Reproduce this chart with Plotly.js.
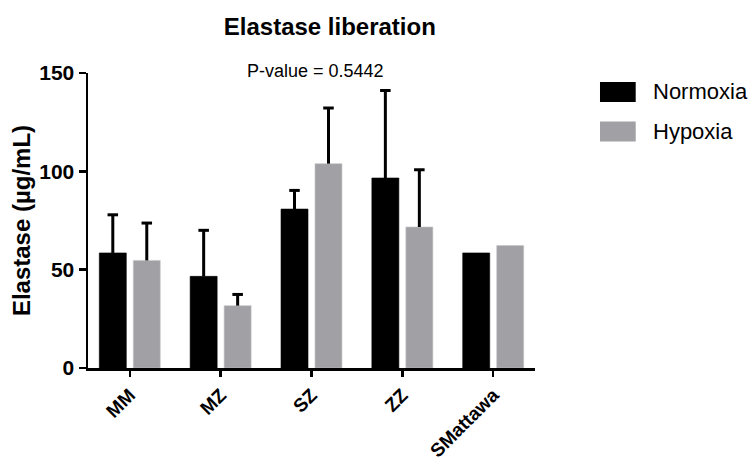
<!DOCTYPE html>
<html>
<head>
<meta charset="utf-8">
<script src="https://cdn.plot.ly/plotly-3.0.1.min.js"></script>
<style>html,body{margin:0;padding:0;background:#fff}#chart{width:754px;height:467px}</style>
</head>
<body>
<div id="chart"></div>
<script>
const categories = ["MM", "MZ", "SZ", "ZZ", "SMattawa"];
const normoxia = [58.5, 46.6, 80.8, 96.6, 58.5];
const normoxiaErr = [19.4, 23.4, 9.5, 44.5, 0];
const hypoxia = [54.7, 31.7, 103.9, 71.7, 62.3];
const hypoxiaErr = [19.0, 5.7, 28.3, 29.1, 0];
const seriesNames = ["Normoxia", "Hypoxia"];
const seriesColors = ["#000000", "#a1a1a5"];
const pValueText = "P-value = 0.5442";

// bar geometry (in category units)
const barWidth = 0.297;
const barShift = 0.187;
const capHalf = 0.058;
const idx = categories.map((c, i) => i);

function barTrace(vals, name, color, sign) {
  return {type: 'bar', x: idx, y: vals, name: name,
    width: barWidth, offset: sign * barShift - barWidth / 2,
    marker: {color: color, line: {color: color === '#000000' ? '#000' : '#c4c4c8', width: 0.6}},
    showlegend: false, hoverinfo: 'skip'};
}
function errTrace(vals, errs, sign) {
  const xs = [], ys = [];
  vals.forEach((v, i) => {
    const e = errs[i];
    if (!e) return;
    const xc = i + sign * barShift, top = v + e;
    xs.push(xc, xc, null, xc - capHalf, xc + capHalf, null);
    ys.push(v, top, null, top, top, null);
  });
  return {type: 'scatter', mode: 'lines', x: xs, y: ys,
    line: {color: '#000', width: 3}, showlegend: false, hoverinfo: 'skip', connectgaps: false};
}

const traces = [
  barTrace(normoxia, seriesNames[0], seriesColors[0], -1),
  barTrace(hypoxia, seriesNames[1], seriesColors[1], 1),
  errTrace(normoxia, normoxiaErr, -1),
  errTrace(hypoxia, hypoxiaErr, 1)
];

const fam = 'Liberation Sans, Arial, sans-serif';
const layout = {
  width: 754, height: 467,
  margin: {l: 88, r: 219, t: 73, b: 99, pad: 0},
  paper_bgcolor: '#fff', plot_bgcolor: '#fff',
  font: {family: fam, color: '#000'},
  title: {text: '<b>Elastase liberation</b>', font: {size: 24, family: fam, color: '#000'},
          x: 0.541, xref: 'paper', xanchor: 'center', y: 0.942, yref: 'container', yanchor: 'middle'},
  xaxis: {
    range: [-0.46, 4.46], showgrid: false, zeroline: false,
    tickvals: idx, ticktext: categories,
    showline: true, linecolor: '#000', linewidth: 2.5,
    ticks: 'outside', ticklen: 6, tickwidth: 2.5, tickcolor: '#000',
    tickangle: -45, tickfont: {size: 19, family: fam, color: '#000', weight: 'bold'}
  },
  yaxis: {
    range: [0, 150], dtick: 50, showgrid: false, zeroline: false,
    showline: true, linecolor: '#000', linewidth: 2.5,
    ticks: 'outside', ticklen: 7, tickwidth: 2.5, tickcolor: '#000',
    tickfont: {size: 21, family: fam, color: '#000', weight: 'bold'},
    title: {text: '<b>Elastase (µg/mL)</b>', font: {size: 24, family: fam, color: '#000'}, standoff: 2}
  },
  annotations: [
    {text: pValueText, xref: 'paper', yref: 'paper', x: 0.508, y: 1.006,
     xanchor: 'center', yanchor: 'middle', showarrow: false,
     font: {size: 18, family: fam, color: '#000'}},
    {text: seriesNames[0], xref: 'paper', yref: 'paper', x: 1.2595, y: 0.9356,
     xanchor: 'left', yanchor: 'middle', showarrow: false,
     font: {size: 22, family: fam, color: '#000'}},
    {text: seriesNames[1], xref: 'paper', yref: 'paper', x: 1.2595, y: 0.802,
     xanchor: 'left', yanchor: 'middle', showarrow: false,
     font: {size: 22, family: fam, color: '#000'}}
  ],
  shapes: [
    {type: 'rect', xref: 'paper', yref: 'paper', x0: 1.1454, x1: 1.2253, y0: 0.9017, y1: 0.9695,
     fillcolor: seriesColors[0], line: {width: 0}},
    {type: 'rect', xref: 'paper', yref: 'paper', x0: 1.1454, x1: 1.2253, y0: 0.768, y1: 0.836,
     fillcolor: seriesColors[1], line: {width: 0}}
  ]
};
Plotly.newPlot('chart', traces, layout, {displayModeBar: false, staticPlot: true});
</script>
</body>
</html>
